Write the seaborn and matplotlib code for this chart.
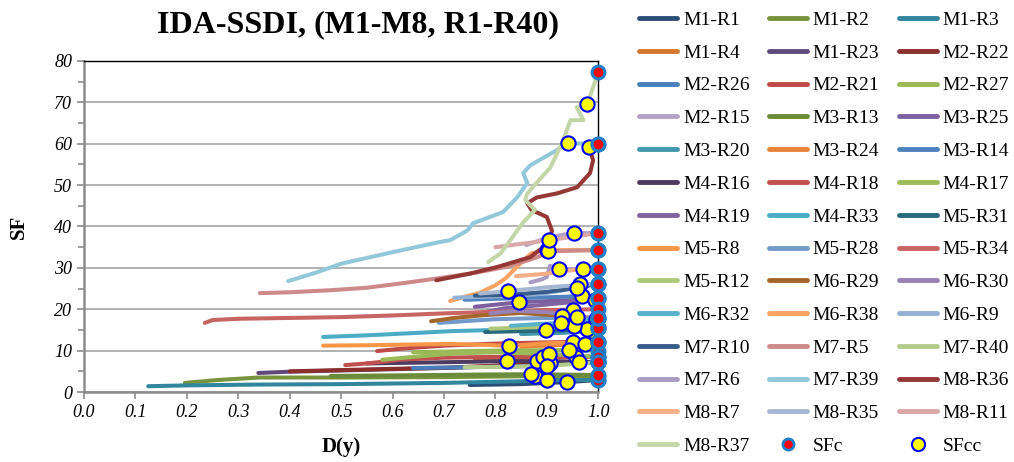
import matplotlib
matplotlib.use("Agg")
import matplotlib.pyplot as plt
from matplotlib.lines import Line2D
from matplotlib.ticker import MultipleLocator
import seaborn as sns
import pandas as pd

# Series names (IDA curves, one per record/model pair)
series_names = [
    "M1-R1", "M1-R2", "M1-R3", "M1-R4", "M1-R23", "M2-R22", "M2-R26", "M2-R21",
    "M2-R27", "M2-R15", "M3-R13", "M3-R25", "M3-R20", "M3-R24", "M3-R14",
    "M4-R16", "M4-R18", "M4-R17", "M4-R19", "M4-R33", "M5-R31", "M5-R8",
    "M5-R28", "M5-R34", "M5-R12", "M6-R29", "M6-R30", "M6-R32", "M6-R38",
    "M6-R9", "M7-R10", "M7-R5", "M7-R40", "M7-R6", "M7-R39", "M8-R36",
    "M8-R7", "M8-R35", "M8-R11", "M8-R37",
]

series_colors = [
    "#2C4D75", "#77933C", "#31859C", "#D4762E", "#604A7B", "#8B2F2D", "#4A7EBB", "#BE4B48",
    "#98B954", "#B3A2C7", "#698B3A", "#7D5FA0", "#4197AC", "#E8843A", "#4F81BD",
    "#4D3B62", "#C0504D", "#9BBB59", "#8064A2", "#4BACC6", "#276A7C", "#F79646",
    "#729ACA", "#C86462", "#AFC97A", "#A5662B", "#9983B5", "#58B2CA", "#F9A465",
    "#95B3D7", "#385D8A", "#CD8A88", "#B3CC8C", "#A99BC4", "#93C8DA", "#953735",
    "#F5AD85", "#A6B7D3", "#D8A7A6", "#C4D6A7",
]

# Damage index D(y) along each curve
d_values = [
    [0.75, 0.85, 0.94, 1.0],
    [0.196, 0.26, 0.34, 0.5, 0.7, 0.85, 0.877, 1.0],
    [0.125, 0.2, 0.34, 0.5, 0.7, 0.85, 0.901, 1.0],
    [0.76, 0.85, 0.92, 0.957, 1.0],
    [0.339, 0.4, 0.5, 0.6, 0.7, 0.8, 0.906, 1.0],
    [0.40, 0.5, 0.6, 0.712, 0.8, 0.881, 1.0],
    [0.64, 0.75, 0.85, 0.92, 0.963, 1.0],
    [0.57, 0.62, 0.7, 0.8, 0.9, 0.951, 1.0],
    [0.64, 0.75, 0.85, 0.944, 1.0],
    [0.86, 0.89, 0.93, 0.952, 1.0],
    [0.48, 0.6, 0.75, 0.87, 1.0],
    [0.76, 0.8, 0.845, 0.93, 1.0],
    [0.85, 0.93, 0.988, 1.0],
    [0.85, 0.92, 0.975, 1.0],
    [0.74, 0.85, 0.93, 0.968, 1.0],
    [0.55, 0.65, 0.75, 0.823, 0.9, 1.0],
    [0.508, 0.55, 0.615, 0.7, 0.8, 0.893, 1.0],
    [0.58, 0.65, 0.72, 0.8, 0.905, 1.0],
    [0.78, 0.82, 0.87, 0.93, 0.994, 1.0],
    [0.465, 0.55, 0.65, 0.712, 0.8, 0.899, 1.0],
    [0.78, 0.85, 0.93, 0.978, 1.0],
    [0.465, 0.55, 0.65, 0.712, 0.78, 0.827, 0.9, 1.0],
    [0.69, 0.75, 0.8, 0.9, 0.996, 1.0],
    [0.235, 0.25, 0.3, 0.4, 0.5, 0.6, 0.7, 0.8, 0.9, 0.95, 1.0],
    [0.79, 0.86, 0.92, 0.953, 1.0],
    [0.675, 0.72, 0.78, 0.85, 0.93, 1.0],
    [0.79, 0.84, 0.9, 0.959, 1.0],
    [0.83, 0.88, 0.928, 1.0],
    [0.712, 0.74, 0.77, 0.8, 0.82, 0.848, 0.87, 0.9, 1.0],
    [0.72, 0.8, 0.88, 0.93, 0.965, 1.0],
    [0.76, 0.83, 0.9, 0.959, 1.0],
    [0.342, 0.4, 0.48, 0.55, 0.62, 0.69, 0.76, 0.82, 0.86, 0.89, 0.903, 1.0],
    [0.74, 0.82, 0.9, 1.0],
    [0.868, 0.89, 0.9, 0.906, 0.924, 1.0],
    [0.397, 0.45, 0.5, 0.6, 0.69, 0.712, 0.745, 0.757, 0.815, 0.842, 0.862, 0.854,
     0.868, 0.913, 0.942, 1.0],
    [0.685, 0.75, 0.803, 0.868, 0.893, 0.905, 0.91, 0.9, 0.87, 0.862, 0.88, 0.92,
     0.959, 0.984, 0.99, 0.982, 1.0],
    [0.84, 0.9, 0.94, 0.971, 1.0],
    [0.77, 0.8, 0.825, 0.9, 1.0],
    [0.80, 0.85, 0.905, 0.95, 1.0],
    [0.786, 0.81, 0.829, 0.854, 0.877, 0.858, 0.862, 0.907, 0.932, 0.946, 0.971,
     0.958, 0.979, 1.0],
]

# Scale factor SF along each curve
sf_values = [
    [1.7, 1.9, 2.4, 2.9],
    [2.2, 2.9, 3.5, 3.5, 3.6, 3.8, 3.9, 3.8],
    [1.4, 1.6, 1.8, 1.9, 2.2, 2.6, 2.9, 2.9],
    [8.0, 8.2, 8.4, 8.5, 8.5],
    [4.6, 4.9, 5.2, 5.5, 5.8, 6.2, 7.0, 7.2],
    [5.0, 5.3, 5.6, 5.9, 6.4, 7.5, 7.2],
    [5.8, 6.0, 6.2, 6.6, 7.2, 7.2],
    [9.9, 10.5, 11.2, 11.7, 12.0, 12.1, 12.1],
    [9.6, 9.9, 10.1, 10.1, 10.0],
    [35.5, 36.8, 38.0, 38.4, 38.4],
    [3.9, 4.0, 4.2, 4.3, 4.1],
    [20.6, 21.1, 21.7, 22.1, 22.6],
    [14.0, 14.3, 14.7, 15.4],
    [11.0, 11.3, 11.6, 12.1],
    [22.3, 22.7, 23.0, 23.2, 22.6],
    [6.9, 7.1, 7.3, 7.5, 7.4, 7.2],
    [6.5, 6.9, 7.8, 8.3, 8.5, 8.5, 8.5],
    [7.8, 8.6, 9.3, 9.6, 9.2, 8.5],
    [19.3, 20.3, 20.8, 21.5, 22.2, 22.6],
    [13.3, 13.7, 14.3, 14.7, 15.0, 15.0, 15.4],
    [14.5, 14.7, 14.9, 15.2, 15.4],
    [11.2, 11.3, 11.5, 11.6, 11.4, 11.1, 11.8, 12.1],
    [16.7, 17.2, 17.6, 17.9, 17.6, 17.8],
    [16.7, 17.4, 17.7, 17.9, 18.1, 18.5, 19.0, 19.4, 19.8, 19.9, 20.0],
    [15.3, 15.6, 15.8, 15.9, 15.4],
    [17.1, 17.9, 18.6, 19.1, 18.4, 17.8],
    [19.0, 19.6, 19.3, 18.1, 17.8],
    [16.0, 16.4, 16.7, 17.8],
    [22.0, 23.0, 24.0, 25.8, 27.5, 31.0, 33.5, 34.3, 34.3],
    [22.8, 23.1, 23.6, 24.5, 26.0, 26.2],
    [23.3, 23.5, 24.2, 25.1, 26.2],
    [23.9, 24.1, 24.6, 25.2, 26.3, 27.5, 28.8, 30.2, 31.7, 33.0, 34.0, 34.3],
    [6.0, 6.1, 6.3, 7.2],
    [26.5, 27.2, 27.8, 30.5, 29.7, 29.7],
    [26.8, 28.8, 31.0, 33.8, 36.2, 36.7, 39.0, 40.8, 43.5, 47.0, 50.5, 52.9,
     54.8, 58.0, 60.1, 60.0],
    [27.0, 28.6, 30.2, 32.6, 35.0, 37.0, 39.0, 42.3, 44.0, 45.6, 47.0, 48.0,
     49.5, 52.9, 56.0, 59.2, 60.0],
    [28.0, 28.6, 29.3, 29.7, 29.7],
    [23.8, 24.1, 24.4, 25.3, 26.2],
    [35.0, 35.8, 36.7, 37.5, 38.4],
    [31.4, 33.5, 36.7, 41.0, 44.0, 46.4, 48.0, 54.3, 60.9, 65.7, 65.7, 68.8,
     69.6, 77.4],
]

# Capacity points: SFcc (onset) and SFc (collapse, at D = 1.0)
sfcc_d = [0.94, 0.877, 0.901, 0.957, 0.906, 0.881, 0.963, 0.951, 0.944, 0.952,
          0.87, 0.845, 0.988, 0.975, 0.968, 0.823, 0.893, 0.905, 0.994, 0.899,
          0.978, 0.827, 0.996, 0.95, 0.953, 0.93, 0.959, 0.928, 0.9, 0.965,
          0.959, 0.903, 0.9, 0.924, 0.942, 0.982, 0.971, 0.825, 0.905, 0.979]
sfcc_sf = [2.4, 3.9, 2.9, 8.5, 7.0, 7.5, 7.2, 12.1, 10.1, 38.4,
           4.3, 21.7, 14.7, 11.6, 23.2, 7.5, 8.5, 9.2, 22.2, 15.0,
           15.2, 11.1, 17.6, 19.9, 15.9, 18.4, 18.1, 16.7, 34.3, 26.0,
           25.1, 34.0, 6.3, 29.7, 60.1, 59.2, 29.7, 24.4, 36.7, 69.6]
sfc_d = [1.0] * len(series_names)
sfc_sf = [sf[-1] for sf in sf_values]

plt.rcParams["font.family"] = ["Liberation Serif", "DejaVu Serif"]

rows = []
for name, ds, sfs in zip(series_names, d_values, sf_values):
    for d, s in zip(ds, sfs):
        rows.append({"curve": name, "D": d, "SF": s})
curves = pd.DataFrame(rows)
palette = dict(zip(series_names, series_colors))

fig = plt.figure(figsize=(10.14, 4.62), dpi=100)
ax = fig.add_axes([0.0828, 0.1515, 0.5072, 0.7165])

sns.lineplot(data=curves, x="D", y="SF", hue="curve", palette=palette,
             sort=False, estimator=None, linewidth=2.9, legend=False, ax=ax,
             solid_capstyle="round", solid_joinstyle="round", zorder=3)

sns.scatterplot(x=sfcc_d, y=sfcc_sf, ax=ax, s=105, color="#FFFF00",
                edgecolor="#0000FF", linewidth=1.5, zorder=5, legend=False)
sns.scatterplot(x=sfc_d, y=sfc_sf, ax=ax, s=85, color="#FF0000",
                edgecolor="#1F7FC8", linewidth=2.2, zorder=6, legend=False)
for coll in ax.collections:
    coll.set_clip_on(False)

ax.set_xlim(0, 1.0)
ax.set_ylim(0, 80)
ax.yaxis.set_major_locator(MultipleLocator(10))
ax.yaxis.set_minor_locator(MultipleLocator(5))
ax.set_xticks([i / 10 for i in range(11)])
ax.set_xticklabels([f"{i / 10:.1f}" for i in range(11)])

ax.grid(axis="y", which="major", color="#A6A6A6", linewidth=1.2, zorder=0)
ax.set_axisbelow(True)
for side in ("left", "bottom"):
    ax.spines[side].set_color("#8C8C8C")
    ax.spines[side].set_linewidth(1.8)
for side in ("top", "right"):
    ax.spines[side].set_color("black")
    ax.spines[side].set_linewidth(1.0)
ax.tick_params(axis="both", which="both", direction="out", color="#8C8C8C",
               width=1.2)
ax.tick_params(axis="both", which="major", length=5, labelsize=13)
ax.tick_params(axis="y", which="minor", length=4)
for lab in ax.get_xticklabels() + ax.get_yticklabels():
    lab.set_fontstyle("italic")

ax.set_xlabel("D(y)", fontsize=15, fontweight="bold", labelpad=12)
ax.set_ylabel("SF", fontsize=15, fontweight="bold", labelpad=18)
fig.text(0.353, 0.946, "IDA-SSDI, (M1-M8, R1-R40)", fontsize=23,
         fontweight="bold", ha="center", va="center")

# Legend entries laid out row by row in three columns
entries = [(Line2D([0], [0], color=c, lw=3.5, solid_capstyle="round"), n)
           for n, c in zip(series_names, series_colors)]
entries.append((Line2D([0], [0], ls="none", marker="o", markersize=8,
                       markerfacecolor="#FF0000", markeredgecolor="#1F7FC8",
                       markeredgewidth=2.0), "SFc"))
entries.append((Line2D([0], [0], ls="none", marker="o", markersize=9.5,
                       markerfacecolor="#FFFF00", markeredgecolor="#0000FF",
                       markeredgewidth=1.5), "SFcc"))
ncol = 3
nrow = -(-len(entries) // ncol)
ordered = []
for col in range(ncol):
    for row in range(nrow):
        idx = row * ncol + col
        if idx < len(entries):
            ordered.append(entries[idx])
handles = [h for h, _ in ordered]
labels = [l for _, l in ordered]
fig.legend(handles, labels, ncol=ncol, loc="upper left",
           bbox_to_anchor=(0.617, 1.005), frameon=False, fontsize=14,
           handlelength=1.95, handletextpad=0.3, columnspacing=1.0,
           labelspacing=0.78, borderaxespad=0.3)

fig.savefig("out.png", dpi=100)
